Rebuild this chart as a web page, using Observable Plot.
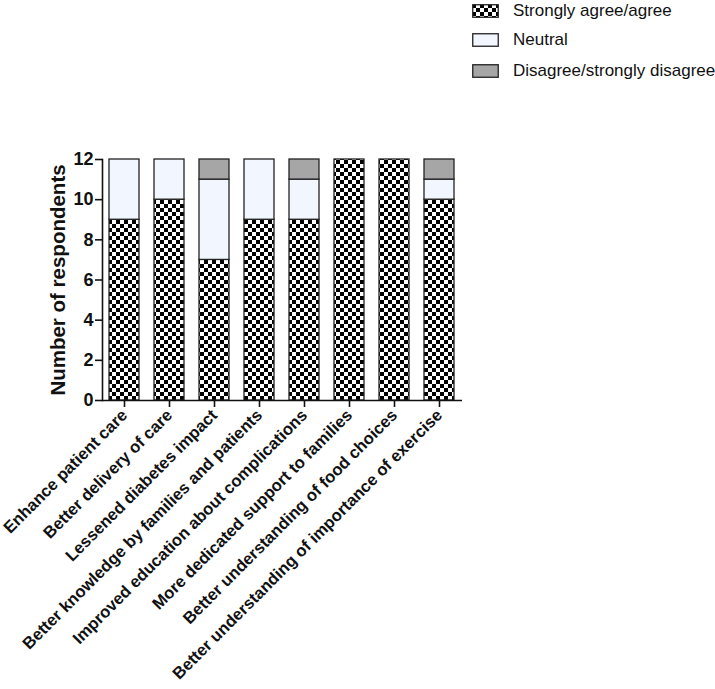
<!DOCTYPE html>
<html>
<head>
<meta charset="utf-8">
<script src="https://cdn.jsdelivr.net/npm/d3@7"></script>
<script src="https://cdn.jsdelivr.net/npm/@observablehq/plot@0.6"></script>
<style>
  body { margin: 0; background: #fff; font-family: "Liberation Sans", Arial, sans-serif; }
  #wrap { position: relative; width: 715px; height: 689px; overflow: hidden; }
  #legend { position: absolute; left: 472px; top: 0px; font-size: 17px; color: #111; }
  .row { position: absolute; left: 0; display: flex; align-items: center; white-space: nowrap; height: 20px; }
  .row svg { margin-right: 14px; }
</style>
</head>
<body>
<div id="wrap">
  <div id="chart"></div>
  <div id="legend"></div>
</div>
<script>
const categories = [
  "Enhance patient care",
  "Better delivery of care",
  "Lessened diabetes impact",
  "Better knowledge by families and patients",
  "Improved education about complications",
  "More dedicated support to families",
  "Better understanding of food choices",
  "Better understanding of importance of exercise"
];
const seriesNames = ["Strongly agree/agree", "Neutral", "Disagree/strongly disagree"];
const agree    = [9, 10, 7, 9, 9, 12, 12, 10];
const neutral  = [3, 2, 4, 3, 2, 0, 0, 1];
const disagree = [0, 0, 1, 0, 1, 0, 0, 1];
const yTicks = [0, 2, 4, 6, 8, 10, 12];
const yLabel = "Number of respondents";

const fills = ["url(#checker)", "#f2f6fe", "#a6a6a6"];

const rows = [];
categories.forEach((c, i) => {
  [agree, neutral, disagree].forEach((arr, s) => {
    rows.push({category: c, series: seriesNames[s], value: arr[i]});
  });
});

const font = "Liberation Sans, Arial, sans-serif";

const plot = Plot.plot({
  width: 715,
  height: 689,
  marginLeft: 102,
  marginRight: 253,
  marginTop: 159,
  marginBottom: 289,
  style: {fontFamily: font, background: "white", color: "#111"},
  x: {domain: categories, paddingInner: 0.33, paddingOuter: 0.155, label: null},
  y: {domain: [0, 12], label: null},
  color: {domain: seriesNames, range: fills},
  marks: [
    Plot.barY(rows, Plot.stackY({x: "category", y: "value", fill: "series", order: seriesNames, stroke: "#222", strokeWidth: 1.3})),
    Plot.ruleY([0], {stroke: "#111", strokeWidth: 1.6}),
    Plot.frame({anchor: "left", stroke: "#111", strokeWidth: 1.6}),
    Plot.axisY({ticks: yTicks, tickSize: 7, tickPadding: 2, fontSize: 18, fontWeight: "bold", label: null, strokeWidth: 1.6, stroke: "#111"}),
    Plot.axisX({tickSize: 7, tickPadding: 5, tickRotate: -45, fontSize: 16.6, fontWeight: "bold", label: null, strokeWidth: 1.6, stroke: "#111"}),
    Plot.text([yLabel], {frameAnchor: "left", dx: -44, rotate: -90, textAnchor: "middle", fontSize: 20.5, fontWeight: "bold", fill: "#111"})
  ]
});

// checker pattern defs
const svgNS = "http://www.w3.org/2000/svg";
function addDefs(svg, id) {
  const defs = document.createElementNS(svgNS, "defs");
  defs.innerHTML = `<pattern id="${id}" patternUnits="userSpaceOnUse" width="8" height="8">
    <rect width="8" height="8" fill="#fff"/>
    <rect x="0" y="0" width="4" height="4" fill="#000"/>
    <rect x="4" y="4" width="4" height="4" fill="#000"/>
  </pattern>`;
  svg.insertBefore(defs, svg.firstChild);
}
addDefs(plot, "checker");
document.getElementById("chart").appendChild(plot);

// legend
const legend = document.getElementById("legend");
const tops = [1, 30, 61];
seriesNames.forEach((name, i) => {
  const row = document.createElement("div");
  row.className = "row";
  row.style.top = tops[i] + "px";
  const fill = i === 0 ? "url(#checkerL)" : fills[i];
  row.innerHTML = `<svg width="27" height="14"><defs><pattern id="checkerL" patternUnits="userSpaceOnUse" width="8" height="8">
    <rect width="8" height="8" fill="#fff"/><rect x="0" y="0" width="4" height="4" fill="#000"/><rect x="4" y="4" width="4" height="4" fill="#000"/></pattern></defs>
    <rect x="0.75" y="0.75" width="25.5" height="12.5" fill="${fill}" stroke="#222" stroke-width="1.3"/></svg><span>${name}</span>`;
  legend.appendChild(row);
});
</script>
</body>
</html>
